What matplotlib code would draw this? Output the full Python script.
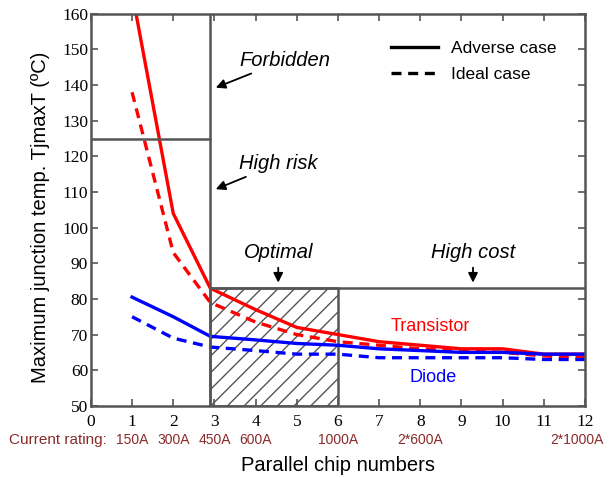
import numpy as np
import matplotlib.pyplot as plt
from matplotlib.patches import Rectangle

# chip counts and junction temperatures
chips = [1, 2, 2.9, 4, 5, 6, 7, 8, 9, 10, 11, 12]
igbt_adverse = [166, 104, 83, 77, 72, 70, 68, 67, 66, 66, 64.5, 64.5]
igbt_ideal = [138, 93, 79, 73.5, 70, 68, 67, 66, 65.5, 65, 64, 63.5]
diode_adverse = [80.5, 75, 69.5, 68.5, 67.5, 67, 66, 65.5, 65, 65, 64.5, 64.5]
diode_ideal = [75, 69, 66.5, 65.5, 64.5, 64.5, 63.5, 63.5, 63.5, 63.5, 63, 63]

rating_pos = [1, 2, 3, 4, 6, 8, 11.8]
rating_txt = ["150A", "300A", "450A", "600A", "1000A", "2*600A", "2*1000A"]

x_ticks = list(range(0, 13))
y_ticks = list(range(50, 161, 10))

limit_risk = 125
limit_opt = 83
x_min_chips = 2.9
x_opt_end = 6

grey = "#555555"
rating_col = "#8b2a2a"
plt.rcParams['hatch.color'] = "#666666"
plt.rcParams['hatch.linewidth'] = 1.0
plt.rcParams['font.serif'] = ["Liberation Serif", "DejaVu Serif"]

fig = plt.figure(figsize=(6.1, 4.78), dpi=100)
ax = fig.add_axes([0.149, 0.151, 0.81, 0.82])

ax.plot(chips, igbt_adverse, color="red", lw=2.4)
ax.plot(chips, igbt_ideal, color="red", lw=2.4, ls=(0, (3, 2)))
ax.plot(chips, diode_adverse, color="blue", lw=2.4)
ax.plot(chips, diode_ideal, color="blue", lw=2.4, ls=(0, (3, 2)))

# design region boundaries
ax.plot([x_min_chips, x_min_chips], [50, 160], color=grey, lw=1.8)
ax.plot([0, x_min_chips], [limit_risk, limit_risk], color=grey, lw=1.8)
ax.plot([x_min_chips, 12], [limit_opt, limit_opt], color=grey, lw=1.8)
ax.add_patch(Rectangle((x_min_chips, 50), x_opt_end - x_min_chips, limit_opt - 50,
                       fill=False, hatch="//", edgecolor=grey, lw=1.8))

arr = dict(arrowstyle="-|>", color="black", lw=1.3, mutation_scale=14)
note = dict(fontsize=14.5, style="italic", family="Liberation Sans", va="center")
ax.annotate("Forbidden", xy=(2.97, 139), xytext=(3.6, 147), arrowprops=arr, **note)
ax.annotate("High risk", xy=(2.97, 110.5), xytext=(3.6, 118), arrowprops=arr, **note)
ax.annotate("Optimal", xy=(4.55, 83.8), xytext=(4.55, 93), ha="center",
            arrowprops=arr, **note)
ax.annotate("High cost", xy=(9.28, 83.8), xytext=(9.28, 93), ha="center",
            arrowprops=arr, **note)
ax.text(8.25, 72.2, "Transistor", color="red", fontsize=13,
        family="Liberation Sans", ha="center", va="center")
ax.text(8.3, 58, "Diode", color="blue", fontsize=13,
        family="Liberation Sans", ha="center", va="center")

# legend
h1, = ax.plot([], [], color="black", lw=2.4, label="Adverse case")
h2, = ax.plot([], [], color="black", lw=2.4, ls=(0, (3, 2)), label="Ideal case")
ax.legend(handles=[h1, h2], loc="upper right", bbox_to_anchor=(0.973, 0.972),
          frameon=False, prop={"family": "Liberation Sans", "size": 12.5},
          handlelength=2.7, handletextpad=0.7, labelspacing=0.65)

ax.set_xlim(0, 12)
ax.set_ylim(50, 160)
ax.set_xticks(x_ticks)
ax.set_yticks(y_ticks)
ax.set_xticklabels([str(v) for v in x_ticks])
ax.set_yticklabels([str(v) for v in y_ticks])
for lab in ax.get_xticklabels() + ax.get_yticklabels():
    lab.set_fontfamily("serif")
    lab.set_fontsize(12.5)
ax.tick_params(direction="in", top=True, right=True, length=5, width=1.2,
               color=grey)
ax.tick_params(axis="x", pad=6)
ax.tick_params(axis="y", pad=2)
for s in ax.spines.values():
    s.set_color(grey)
    s.set_linewidth(1.8)

# current rating row under the chip count axis
ax.text(-1.99, 40.3, "Current rating:", color=rating_col, fontsize=11,
        family="Liberation Sans", ha="left", va="center", clip_on=False)
for x, t in zip(rating_pos, rating_txt):
    ax.text(x, 40.3, t, color=rating_col, fontsize=10, family="Liberation Sans",
            ha="center", va="center")

ax.set_xlabel("Parallel chip numbers", fontsize=14.5, family="Liberation Sans")
ax.xaxis.set_label_coords(0.5, -0.128)
ax.set_ylabel("Maximum junction temp. TjmaxT (ºC)", fontsize=14.5,
              family="Liberation Sans")
ax.yaxis.set_label_coords(-0.083, 0.48)

fig.savefig("out.png", dpi=100)
